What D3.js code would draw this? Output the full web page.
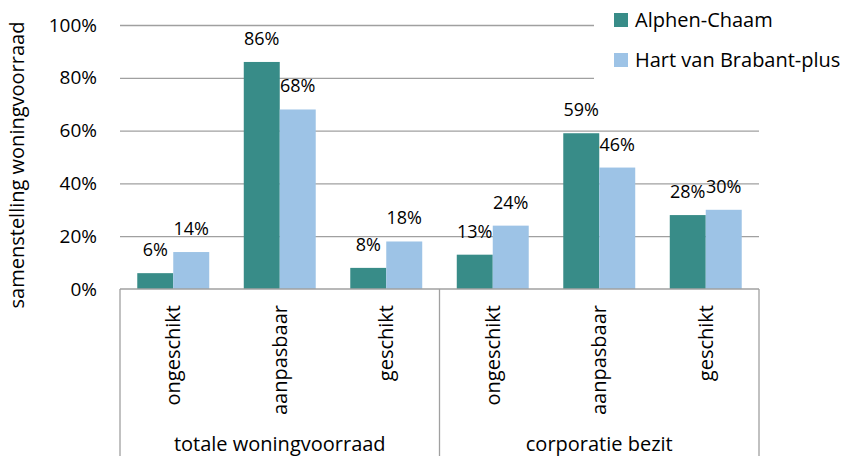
<!DOCTYPE html>
<html lang="nl">
<head>
<meta charset="utf-8">
<title>Samenstelling woningvoorraad</title>
<script src="https://d3js.org/d3.v7.min.js"></script>
<style>
body { margin: 0; background: #fff; }
svg text { font-family: "Open Sans", sans-serif; fill: #000; }
</style>
</head>
<body>
<script>
// data
const groups = ["totale woningvoorraad", "corporatie bezit"];
const subcats = ["ongeschikt", "aanpasbaar", "geschikt"];
const seriesNames = ["Alphen-Chaam", "Hart van Brabant-plus"];
const alphenChaam = [0.06, 0.86, 0.08, 0.13, 0.59, 0.28];
const hartVanBrabant = [0.14, 0.68, 0.18, 0.24, 0.46, 0.30];
const yTicks = [0, 0.2, 0.4, 0.6, 0.8, 1.0];
const colors = ["#388c88", "#9dc3e6"];

const svgWidth = 843, svgHeight = 456;
const plotLeft = 120, plotRight = 759, plotTop = 25, plotBottom = 289;

const cats = [];
groups.forEach(g => subcats.forEach(s => cats.push({group: g, name: s})));
const values = [alphenChaam, hartVanBrabant];

const svg = d3.select("body").append("svg")
    .attr("width", svgWidth)
    .attr("height", svgHeight);

const x = d3.scaleBand()
    .domain(d3.range(cats.length))
    .range([plotLeft, plotRight])
    .padding(0);

const xSub = d3.scaleBand()
    .domain(seriesNames)
    .range([0, x.bandwidth()])
    .paddingInner(0)
    .paddingOuter(0.48);

const y = d3.scaleLinear()
    .domain([0, 1])
    .range([plotBottom, plotTop]);

// gridlines
svg.append("g")
    .attr("transform", "translate(" + plotLeft + ",0)")
    .call(d3.axisLeft(y).tickValues(yTicks.slice(1)).tickSize(-(plotRight - plotLeft)).tickFormat(""))
    .call(g => g.select(".domain").remove())
    .call(g => g.selectAll("line").attr("stroke", "#a0a0a0").attr("stroke-width", 1.3));

// y labels
svg.append("g")
    .attr("transform", "translate(97,0)")
    .call(d3.axisLeft(y).tickValues(yTicks).tickSize(0).tickPadding(0).tickFormat(d3.format(".0%")))
    .call(g => g.select(".domain").remove())
    .call(g => g.selectAll("text").attr("font-size", 19).attr("fill", "#000")
        .style("font-family", "'Open Sans', sans-serif"));

// y title
svg.append("text")
    .attr("transform", "translate(24,165) rotate(-90)")
    .attr("text-anchor", "middle")
    .attr("font-size", 20)
    .text("samenstelling woningvoorraad");

// bars
const barGroups = svg.selectAll("g.cat")
    .data(cats)
    .join("g")
    .attr("class", "cat")
    .attr("transform", (d, i) => "translate(" + x(i) + ",0)");

seriesNames.forEach((s, si) => {
    barGroups.append("rect")
        .attr("x", xSub(s))
        .attr("y", (d, i) => y(values[si][i]))
        .attr("width", xSub.bandwidth())
        .attr("height", (d, i) => plotBottom - y(values[si][i]))
        .attr("fill", colors[si]);

    barGroups.append("text")
        .attr("x", xSub(s) + xSub.bandwidth() / 2)
        .attr("y", (d, i) => y(values[si][i]) - 17)
        .attr("text-anchor", "middle")
        .attr("font-size", 18)
        .text((d, i) => Math.round(values[si][i] * 100) + "%");
});

// category axis box
const axisCol = "#a0a0a0";
svg.append("line")
    .attr("x1", plotLeft).attr("x2", plotRight)
    .attr("y1", plotBottom).attr("y2", plotBottom)
    .attr("stroke", axisCol).attr("stroke-width", 1.3);

const groupEdges = [0, 3, 6].map(i => i < cats.length ? x(i) : plotRight);
svg.selectAll("line.sep")
    .data(groupEdges)
    .join("line")
    .attr("class", "sep")
    .attr("x1", d => d).attr("x2", d => d)
    .attr("y1", plotBottom).attr("y2", svgHeight)
    .attr("stroke", axisCol).attr("stroke-width", 1.3);

svg.selectAll("text.cat")
    .data(cats)
    .join("text")
    .attr("class", "cat")
    .attr("transform", (d, i) => "translate(" + (x(i) + x.bandwidth() / 2 + 7) + ",305) rotate(-90)")
    .attr("text-anchor", "end")
    .attr("font-size", 20)
    .text(d => d.name);

svg.selectAll("text.grp")
    .data(groups)
    .join("text")
    .attr("class", "grp")
    .attr("x", (d, i) => (x(i * 3) + (i * 3 + 3 < cats.length ? x(i * 3 + 3) : plotRight)) / 2)
    .attr("y", 451)
    .attr("text-anchor", "middle")
    .attr("font-size", 20)
    .text(d => d);

// legend
svg.append("rect")
    .attr("x", 594).attr("y", 0)
    .attr("width", svgWidth - 594).attr("height", 92)
    .attr("fill", "#fff");

const legend = svg.selectAll("g.leg")
    .data(seriesNames)
    .join("g")
    .attr("class", "leg")
    .attr("transform", (d, i) => "translate(614," + (13 + i * 40) + ")");

legend.append("rect")
    .attr("width", 14).attr("height", 14)
    .attr("fill", (d, i) => colors[i]);

legend.append("text")
    .attr("x", 21).attr("y", 14)
    .attr("font-size", 20)
    .text(d => d);
</script>
</body>
</html>
